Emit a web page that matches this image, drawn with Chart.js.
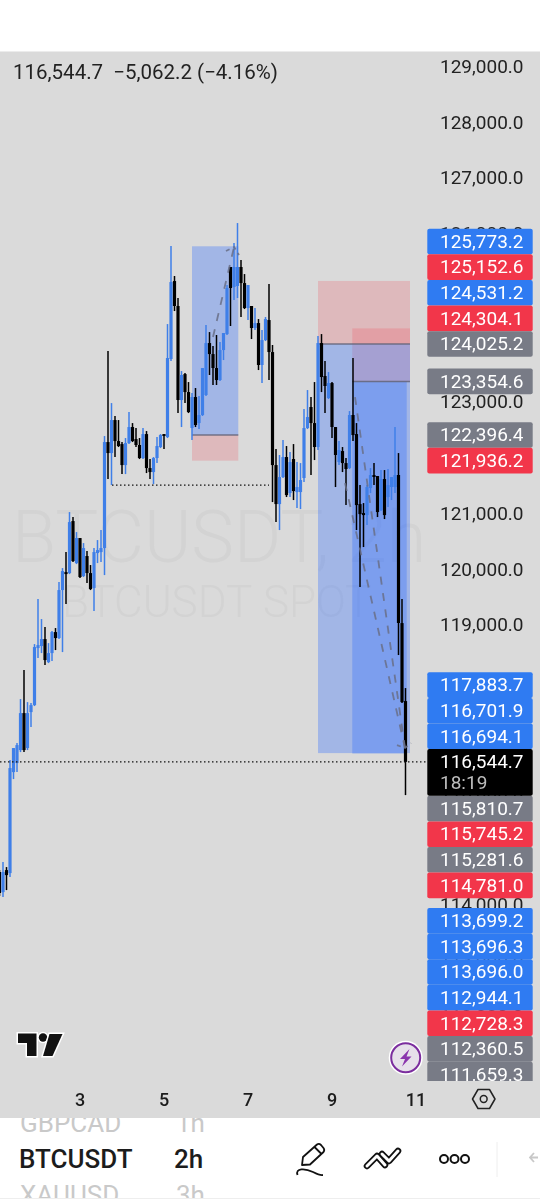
<!DOCTYPE html>
<html>
<head>
<meta charset="utf-8">
<title>BTCUSDT 2h</title>
<script src="https://cdn.jsdelivr.net/npm/chart.js@4/dist/chart.umd.min.js"></script>
<style>
    html, body { margin: 0; padding: 0; background: #fff; }
    body { width: 540px; height: 1200px; position: relative; overflow: hidden; font-family: Roboto, sans-serif; }
    #pane { position: absolute; left: 0; top: 52px; width: 540px; height: 1066px; background: #dadada; box-shadow: 0 -1px 0 #ececec; }
    #chart { display: block; }
    #legend { position: absolute; left: 13px; top: 61px; font-size: 20.5px; line-height: 22px; color: #222; white-space: pre; }
    #drawer { position: absolute; left: 0; top: 1118px; width: 540px; height: 80px; overflow: hidden; border-bottom: 1px solid #eee; }
    .row { position: absolute; font-size: 26px; line-height: 30px; white-space: pre; }
    .faded { color: #c9c9c9; font-weight: 400; }
    .active { color: #1c1c1c; font-weight: 500; }
    svg.overlay { position: absolute; left: 0; top: 0; width: 540px; height: 1200px; pointer-events: none; }
</style>
</head>
<body>
<div id="pane"><canvas id="chart" width="540" height="1066"></canvas></div>
<div id="legend">116,544.7  −5,062.2 (−4.16%)</div>
<div id="drawer">
    <span class="row faded" style="left:20px;top:-10px">GBPCAD</span>
    <span class="row faded" style="left:176px;top:-10px">1h</span>
    <span class="row active" style="left:19px;top:26px">BTCUSDT</span>
    <span class="row active" style="left:174px;top:26px">2h</span>
    <span class="row faded" style="left:20px;top:62px">XAUUSD</span>
    <span class="row faded" style="left:176px;top:62px">3h</span>
</div>
<svg class="overlay" viewBox="0 0 540 1200">
    <!-- tradingview logo -->
    <g fill="#111" stroke="#fff" stroke-width="3" paint-order="stroke" stroke-linejoin="miter">
        <path d="M18 1033.5H36.5V1056H27V1043H18Z"/>
        <circle cx="43" cy="1037.5" r="4.2"/>
        <path d="M49.5 1034H62.5L52.5 1056H43Z"/>
    </g>
    <!-- lightning badge -->
    <circle cx="405.7" cy="1057.7" r="17" fill="#fff"/>
    <circle cx="405.7" cy="1057.7" r="14.5" fill="#e6e0ea" stroke="#7b2d9e" stroke-width="2"/>
    <path d="M409.5 1049L400 1059H405L402 1066.5L411.5 1056.5H406.5Z" fill="#8a34ad"/>
    <!-- settings -->
    <path d="M478 1089.5H489.5L495 1099L489.5 1108.5H478L472.5 1099Z" fill="none" stroke="#222" stroke-width="1.5" stroke-linejoin="round"/>
    <circle cx="483.7" cy="1099" r="3.4" fill="none" stroke="#222" stroke-width="1.5"/>
    <!-- toolbar icons -->
    <path d="M302 1165L303 1157L317 1144.5Q319 1143 321 1145L323.5 1148Q325 1150 323.5 1152L310 1164.5Z M314.5 1147L321.5 1154" fill="none" stroke="#111" stroke-width="1.8" stroke-linejoin="round"/>
    <path d="M297.5 1175C295 1168 305 1168 313 1172S322 1175 323 1175" fill="none" stroke="#111" stroke-width="1.8"/>
    <g fill="none" stroke-linecap="round" stroke-linejoin="round">
        <path d="M367 1166L377 1156L385 1165M382 1154L389 1161L398 1151" stroke="#111" stroke-width="6.5"/>
        <path d="M367 1166L377 1156L385 1165M382 1154L389 1161L398 1151" stroke="#fff" stroke-width="3"/>
    </g>
    <g fill="none" stroke="#111" stroke-width="2">
        <circle cx="444" cy="1159" r="4"/><circle cx="454.5" cy="1159" r="4"/><circle cx="465" cy="1159" r="4"/>
    </g>
    <path d="M497 1142V1177" stroke="#eee" stroke-width="1"/>
    <path d="M538 1157.5H530M534 1153L530 1157.5L534 1162" fill="none" stroke="#c8c8c8" stroke-width="1.8"/>
</svg>

<script>
// Candles, oldest first, 2h bars
const firstCandleDay = 1 + 2 / 24;
const candleStep = 2 / 24;

const opens = [
    114572,114214,114608,114554,116362,116523,116756,117418,116792,117436,
    117561,118582,118618,118743,118331,118492,118868,118761,119620,119942,
    119924,120855,120103,120551,119871,120229,119924,119656,120282,120300,
    120372,122269,122072,122663,122287,122233,121857,122251,122538,122323,
    122216,121983,122412,121804,121732,121983,122180,122412,122359,123755,
    125151,124704,123021,123486,123164,122520,123075,122609,122753,123111,
    124041,123844,123594,123379,123916,124202,125402,125044,125062,125402,
    125115,124668,124704,124310,124399,123648,124095,124453,123880,121857,
    121159,121643,122001,121356,121965,121374,121374,121625,122520,122896,
    122609,122180,124041,123451,123057,123325,122538,121911,122108,121893,
    121804,122753,122412,121159,120998,120962,121446,121678,121661,121052,
    121607,121285,121464,121464,121678,119029,117633
];
const highs = [
    114608,114751,114662,116577,116792,116881,117669,118188,117615,117597,
    118653,119459,119101,118958,118671,118886,118940,119763,120014,120300,
    121016,120927,120658,120551,120461,120318,120068,120372,120515,120694,
    122377,123898,122967,122735,122663,122269,122341,122806,122609,122520,
    122341,122520,122466,121965,122001,122359,122412,122412,124381,125778,
    125241,124847,123540,123504,123343,123146,123236,123093,123594,124364,
    124238,123988,124185,124059,124220,125080,125402,125831,126189,125527,
    125276,125080,124704,124668,124471,124274,124507,125097,124006,122144,
    122037,122305,122198,122090,122233,121911,121893,122860,123200,123075,
    123343,124167,124202,123719,123522,123343,122538,122287,122180,121983,
    122824,123773,122609,121500,121177,121500,121804,121893,121661,121768,
    121768,121786,121643,122538,122072,119459,117866
];
const lows = [
    114143,114125,114250,114483,116237,116362,116720,116720,116756,117168,
    117544,118403,118492,118278,118313,118349,118546,118743,118510,119369,
    119906,120121,120085,119835,119853,119745,119620,119244,120103,120121,
    119888,121607,121500,122001,122180,121696,121696,122233,122269,122180,
    121965,121965,121714,121607,121517,121893,122162,122144,122341,123719,
    124614,122788,122538,122967,122788,122305,122538,122502,122735,123093,
    123469,123290,123290,123361,123737,124185,124346,124811,124847,124507,
    124650,124453,124113,124274,123558,123325,124077,123379,121195,120837,
    120694,121625,121285,121285,121231,121088,121070,121553,122502,121678,
    121947,122126,123164,122788,123039,122341,121464,121857,121732,121141,
    121786,122287,120694,119674,120390,120783,121356,121500,120927,121034,
    120891,121106,121231,121356,118457,117597,115950
];
const closes = [
    114196,114572,114518,116434,116792,116845,117418,116756,117418,117561,
    118600,118635,118743,118367,118492,118868,118761,119620,119960,119906,
    120837,120139,120551,119853,120372,119924,119638,120300,120336,120372,
    122269,122072,122663,122287,122198,121857,122251,122538,122287,122216,
    121983,122412,121804,121732,121983,122198,122394,122377,123773,125133,
    124704,123021,123469,123164,122806,123075,122574,122753,123594,124041,
    123844,123594,123379,123916,124220,125026,125026,125402,125402,125115,
    124668,125080,124310,124399,123648,124095,124471,123880,121857,121159,
    121643,122001,121320,121911,121392,121464,121589,122520,122717,122609,
    122180,124041,123433,123272,123325,122538,122037,122126,121893,121786,
    122753,122394,121141,120980,120962,121464,121678,121643,121016,121607,
    120962,121500,121643,121678,119029,117615,116544.7
];

// Axis ticks
const dayTicks = [3, 5, 7, 9, 11];
const priceTicks = [
    111000, 112000, 113000, 114000, 115000, 116000, 117000, 118000, 119000, 120000,
    121000, 122000, 123000, 124000, 125000, 126000, 127000, 128000, 129000
];

// Price tags on the right axis
const lastPrice = 116544.7;
const countdown = '18:19';
const tagPrices = [
    125773.2, 125152.6, 124531.2, 124304.1, 124025.2, 123354.6, 122396.4, 121936.2,
    117883.7, 116701.9, 116694.1,
    115810.7, 115745.2, 115281.6, 114781.0,
    113699.2, 113696.3, 113696.0, 112944.1, 112728.3, 112360.5, 111659.3
];
const tagKinds = [
    'blue', 'red', 'blue', 'red', 'grey', 'grey', 'grey', 'red',
    'blue', 'blue', 'blue',
    'grey', 'red', 'grey', 'red',
    'blue', 'blue', 'blue', 'blue', 'red', 'grey', 'grey'
];

// Position drawings, [from day, to day, price]
const riskBoxes = [
    [5.667, 6.769, 122396.4, 121936.2],
    [8.667, 10.857, 125152.6, 124025.2],
    [9.483, 10.857, 124304.1, 123354.6]
];
const rewardBoxes = [
    [5.667, 6.769, 125773.2, 122396.4],
    [8.667, 10.857, 124025.2, 116701.9],
    [9.483, 10.778, 123354.6, 116694.1]
];
const entryLines = [
    [5.667, 6.769, 122396.4],
    [8.667, 10.857, 124025.2],
    [9.483, 10.857, 123354.6]
];

// Dashed arrows and dotted levels
const arrowLeft = [{ x: 6.167, y: 124149 }, { x: 6.667, y: 125760 }];
const arrowLeftHead = [{ x: 6.476, y: 125688 }, { x: 6.667, y: 125760 }, { x: 6.786, y: 125617 }];
const arrowOne = [{ x: 9.548, y: 123075 }, { x: 10.738, y: 116792 }];
const arrowTwo = [{ x: 9.31, y: 121535 }, { x: 10.738, y: 116792 }];
const arrowHead = [{ x: 10.547, y: 116845 }, { x: 10.738, y: 116792 }, { x: 10.881, y: 116881 }];
const supportLevel = [{ x: 3.762, y: 121500 }, { x: 7.5, y: 121500 }];

const UP = '#3f7fe8';
const DOWN = '#000000';
const TAG_COLORS = { blue: '#2f7bf2', red: '#f2364a', grey: '#787b86' };
const LABEL_FONT = '19px Roboto, sans-serif';

const candleDays = opens.map((_, i) => firstCandleDay + i * candleStep);
const candleColors = opens.map((o, i) => (closes[i] >= o ? UP : DOWN));

const dashed = (data, dash) => ({
    type: 'line',
    data,
    borderColor: 'rgba(105,110,135,0.85)',
    borderWidth: 1.8,
    borderDash: dash || [8, 8.5],
    pointRadius: 0,
    tension: 0
});

const dotted = (data) => ({
    type: 'line',
    data,
    borderColor: '#111',
    borderWidth: 1.3,
    borderDash: [1.5, 2.5],
    pointRadius: 0,
    tension: 0
});

const fillBox = (chart, box, color) => {
    const { x, y } = chart.scales;
    const ctx = chart.ctx;
    const left = x.getPixelForValue(box[0]);
    const top = y.getPixelForValue(box[2]);
    ctx.fillStyle = color;
    ctx.fillRect(left, top, x.getPixelForValue(box[1]) - left, y.getPixelForValue(box[3]) - top);
};

// Watermark behind the candles
const watermark = {
    id: 'watermark',
    beforeDatasetsDraw(chart) {
        const ctx = chart.ctx;
        ctx.save();
        ctx.fillStyle = '#d3d3d3';
        ctx.textBaseline = 'alphabetic';
        ctx.font = '300 72px Roboto, sans-serif';
        ctx.fillText('BTCUSDT, 2h', 12, 510);
        ctx.font = '300 44px Roboto, sans-serif';
        ctx.fillText('BTCUSDT SPOT', 62, 565);
        ctx.restore();
    }
};

// Boxes sit under the candles
const positions = {
    id: 'positions',
    beforeDatasetsDraw(chart) {
        const { x, y } = chart.scales;
        const ctx = chart.ctx;
        ctx.save();
        riskBoxes.forEach((b) => fillBox(chart, b, 'rgba(242,54,69,0.2)'));
        rewardBoxes.forEach((b) => fillBox(chart, b, 'rgba(45,105,255,0.32)'));
        ctx.strokeStyle = 'rgba(100,100,120,0.85)';
        ctx.lineWidth = 1.5;
        entryLines.forEach((l) => {
            const py = y.getPixelForValue(l[2]);
            ctx.beginPath();
            ctx.moveTo(x.getPixelForValue(l[0]), py);
            ctx.lineTo(x.getPixelForValue(l[1]), py);
            ctx.stroke();
        });
        ctx.restore();
    }
};

// Axis tags stack away from the last price tag
const priceTags = {
    id: 'priceTags',
    afterDraw(chart) {
        const y = chart.scales.y;
        const ctx = chart.ctx;
        const area = chart.chartArea;
        const tagH = 25.6;
        const lastY = y.getPixelForValue(lastPrice);
        const lastTop = lastY - tagH / 2;
        const lastH = 46.7;
        const left = 427.3;
        const width = 105.4;
        const textX = 440;

        const tags = tagPrices.map((price, i) => ({ price, kind: tagKinds[i], py: y.getPixelForValue(price) }));
        let limit = lastTop;
        tags.filter((t) => t.price > lastPrice).reverse().forEach((t) => {
            t.py = Math.min(t.py, limit - tagH / 2);
            limit = t.py - tagH / 2;
        });
        limit = lastTop + lastH;
        tags.filter((t) => t.price < lastPrice).forEach((t) => {
            t.py = Math.max(t.py, limit + tagH / 2);
            limit = t.py + tagH / 2;
        });

        ctx.save();
        ctx.beginPath();
        ctx.rect(left - 1, area.top, width + 2, area.bottom - area.top);
        ctx.clip();
        ctx.font = LABEL_FONT;
        ctx.textBaseline = 'middle';
        ctx.textAlign = 'left';
        tags.forEach((t) => {
            ctx.fillStyle = TAG_COLORS[t.kind];
            ctx.beginPath();
            ctx.roundRect(left, t.py - tagH / 2, width, tagH, 2);
            ctx.fill();
            ctx.fillStyle = '#fff';
            ctx.fillText(t.price.toLocaleString('en-US', { minimumFractionDigits: 1 }), textX, t.py + 1.5);
        });
        ctx.fillStyle = '#000';
        ctx.beginPath();
        ctx.roundRect(left, lastTop, width, lastH, 2);
        ctx.fill();
        ctx.fillStyle = '#fff';
        ctx.fillText(lastPrice.toLocaleString('en-US', { minimumFractionDigits: 1 }), textX, lastY + 1);
        ctx.fillStyle = '#bdbdbd';
        ctx.fillText(countdown, textX, lastY + 22);
        ctx.restore();
    }
};

new Chart(document.getElementById('chart'), {
    type: 'bar',
    data: {
        datasets: [
            dashed(arrowLeft),
            dashed(arrowLeftHead, [4, 4]),
            dashed(arrowOne),
            dashed(arrowTwo),
            dashed(arrowHead, [4, 4]),
            dotted(supportLevel),
            dotted([{ x: 1.0952, y: lastPrice }, { x: 11.2619, y: lastPrice }]),
            {
                label: 'bodies',
                data: candleDays.map((d, i) => ({ x: d, y: [opens[i], closes[i]] })),
                backgroundColor: candleColors,
                barThickness: 3.2,
                borderWidth: 0,
                grouped: false,
                inflateAmount: 0
            },
            {
                label: 'wicks',
                data: candleDays.map((d, i) => ({ x: d, y: [lows[i], highs[i]] })),
                backgroundColor: candleColors,
                barThickness: 1.5,
                borderWidth: 0,
                grouped: false,
                inflateAmount: 0
            }
        ]
    },
    options: {
        responsive: false,
        animation: false,
        layout: { padding: 0 },
        plugins: { legend: { display: false }, tooltip: { enabled: false } },
        scales: {
            x: {
                type: 'linear',
                offset: false,
                min: 1.0952,
                max: 11.2619,
                grid: { display: false, drawTicks: false },
                border: { display: false },
                afterBuildTicks: (s) => { s.ticks = dayTicks.map((value) => ({ value })); },
                afterFit: (s) => {
                    s.height = 37;
                    s.paddingLeft = 0;
                    s.paddingRight = 0;
                },
                ticks: {
                    autoSkip: false,
                    maxRotation: 0,
                    padding: 10,
                    color: '#1c1c1c',
                    font: { family: 'Roboto, sans-serif', size: 18, weight: '500' },
                    callback: (v) => String(v)
                }
            },
            y: {
                position: 'right',
                min: 110833,
                max: 129250.6,
                grid: { display: false, drawTicks: false },
                border: { display: false },
                afterBuildTicks: (s) => { s.ticks = priceTicks.map((value) => ({ value })); },
                afterFit: (s) => {
                    s.width = 113;
                    s.paddingTop = 0;
                    s.paddingBottom = 0;
                },
                ticks: {
                    autoSkip: false,
                    crossAlign: 'near',
                    padding: 13,
                    labelOffset: 2,
                    color: '#222',
                    font: { family: 'Roboto, sans-serif', size: 19 },
                    callback: (v) => v.toLocaleString('en-US', { minimumFractionDigits: 1 })
                }
            }
        }
    },
    plugins: [watermark, positions, priceTags]
});
</script>
</body>
</html>
